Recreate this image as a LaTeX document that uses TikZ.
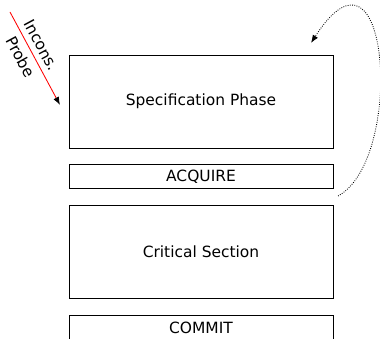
\documentclass[tikz,border=0pt]{standalone}
\usepackage{fontspec}
\setmainfont{DejaVu Sans}
\usepackage{tikz}
\usetikzlibrary{positioning,arrows.meta}

\begin{document}
\begin{tikzpicture}[font=\fontsize{11}{13}\selectfont, line width=0.6pt]
\useasboundingbox (0,0) rectangle (9.5,8.45);
\tikzset{phase/.style={draw, rectangle, minimum width=6.6cm, minimum height=2.325cm, inner sep=0pt},
         marker/.style={draw, rectangle, minimum width=6.6cm, minimum height=0.6cm, inner sep=0pt}}

\node[phase] (spec) at (5.025,5.9125) {Specification Phase};
\node[marker, below=0.4cm of spec] (acquire) {ACQUIRE};
\node[phase, below=0.4cm of acquire] (critical) {Critical Section};
\node[marker, below=0.4cm of critical] (commit) {COMMIT};

% inconsistent probe
\coordinate (probestart) at (0.25,8.15);
\coordinate (probeend) at (1.5,5.825);
\draw[red, -{Latex[black]}] (probestart) -- (probeend) node[pos=0.42, sloped, align=center, text=black, font=\fontsize{11}{17}\selectfont] {Incons.\\Probe};

% retry loop
\coordinate (loopstart) at (8.45,3.55);
\coordinate (loopend) at (7.775,7.375);
\draw[densely dotted, -{Latex}] (loopstart) .. controls (10.125,4.45) and (9.75,10.45) .. (loopend);
\end{tikzpicture}
\end{document}
